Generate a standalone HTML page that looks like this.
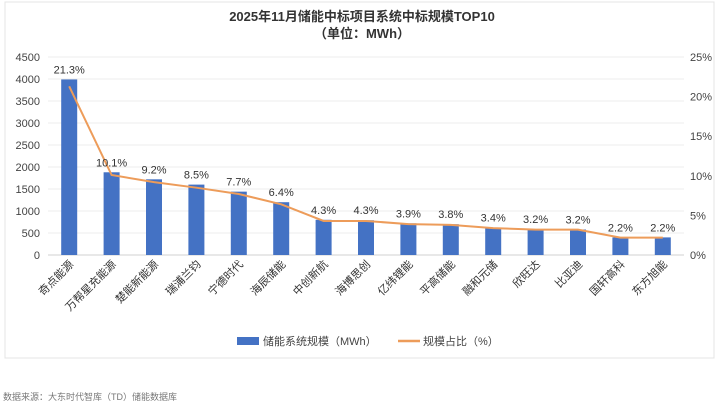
<!DOCTYPE html>
<html><head><meta charset="utf-8"><style>
body{margin:0;background:#fff;font-family:"Liberation Sans","Noto Sans CJK SC",sans-serif;}
svg{display:block}
</style></head><body>
<svg id="chart" width="719" height="404" font-family="Liberation Sans, Noto Sans CJK SC, sans-serif">
<rect x="5" y="2" width="709" height="356" fill="#fff" stroke="#e4e4e4"/>
<text x="362" y="21" text-anchor="middle" font-size="13" font-weight="bold" fill="#333">2025年11月储能中标项目系统中标规模TOP10</text>
<text x="362" y="38" text-anchor="middle" font-size="13" font-weight="bold" fill="#333">（单位：MWh）</text>
<g id="grid"></g><g id="bars"></g><g id="line"></g><g id="labels"></g>
<g>
<rect x="237" y="337" width="22" height="8" fill="#4472c4"/>
<text x="263" y="345" font-size="11" fill="#444">储能系统规模（MWh）</text>
<line x1="398" y1="341" x2="420" y2="341" stroke="#ed9c5a" stroke-width="2.5"/>
<text x="423" y="345" font-size="11" fill="#444">规模占比（%）</text>
</g>
<text x="3" y="400" font-size="9" fill="#777">数据来源：大东时代智库（TD）储能数据库</text>
</svg>
<script>
const categories=["奇点能源","万帮星充能源","楚能新能源","瑞浦兰钧","宁德时代","海辰储能","中创新航","海博思创","亿纬锂能","平高储能","融和元储","欣旺达","比亚迪","国轩高科","东方旭能"];
const capacity=[3990,1880,1720,1600,1440,1200,800,790,720,700,620,590,580,400,400];
const share=[21.3,10.1,9.2,8.5,7.7,6.4,4.3,4.3,3.9,3.8,3.4,3.2,3.2,2.2,2.2];
const leftTicks=[0,500,1000,1500,2000,2500,3000,3500,4000,4500];
const rightTicks=[0,5,10,15,20,25];
const NS="http://www.w3.org/2000/svg";
const x0=48,x1=684,yb=255,yt=57;
const step=(x1-x0)/categories.length;
const xc=i=>x0+step*(i+0.5);
const yL=v=>yb-(v/4500)*(yb-yt);
const yR=v=>yb-(v/25)*(yb-yt);
function mk(tag,attrs,parent){const e=document.createElementNS(NS,tag);for(const k in attrs)e.setAttribute(k,attrs[k]);parent.appendChild(e);return e;}
const grid=document.getElementById('grid');
leftTicks.forEach(t=>{
  const l=mk('line',{x1:x0,x2:x1,y1:yL(t),y2:yL(t),stroke:t===0?'#d0d0d0':'#ececec'},grid);
  
  
  const tx=mk('text',{x:40,y:yL(t)+4,'text-anchor':'end','font-size':11,fill:'#444'},grid);
  tx.textContent=t;
  
  
});
rightTicks.forEach(t=>{
  const tx=mk('text',{x:690,y:yR(t)+4,'font-size':11,fill:'#444'},grid);
  tx.textContent=t+'%';
  
  
});
const bars=document.getElementById('bars');
capacity.forEach((v,i)=>{
  const r=mk('rect',{x:xc(i)-8,y:yL(v),width:16,height:yb-yL(v),fill:'#4472c4'},bars);
  
  
});
const line=document.getElementById('line');
const p=mk('polyline',{points:share.map((v,i)=>xc(i)+','+yR(v)).join(' '),fill:'none',stroke:'#ed9c5a','stroke-width':2},line);


const labels=document.getElementById('labels');
share.forEach((v,i)=>{
  const top=Math.min(yL(capacity[i]),yR(v));
  const t=mk('text',{x:xc(i),y:top-6,'text-anchor':'middle','font-size':11,fill:'#333'},labels);
  t.textContent=v.toFixed(1)+'%';
  
  
});
categories.forEach((c,i)=>{
  const x=xc(i)+5,y=yb+10;
  const t=mk('text',{x:x,y:y,'text-anchor':'end','font-size':11,fill:'#333',transform:`rotate(-45 ${x} ${y})`},labels);
  t.textContent=c;
  
  
});
</script>
</body></html>
